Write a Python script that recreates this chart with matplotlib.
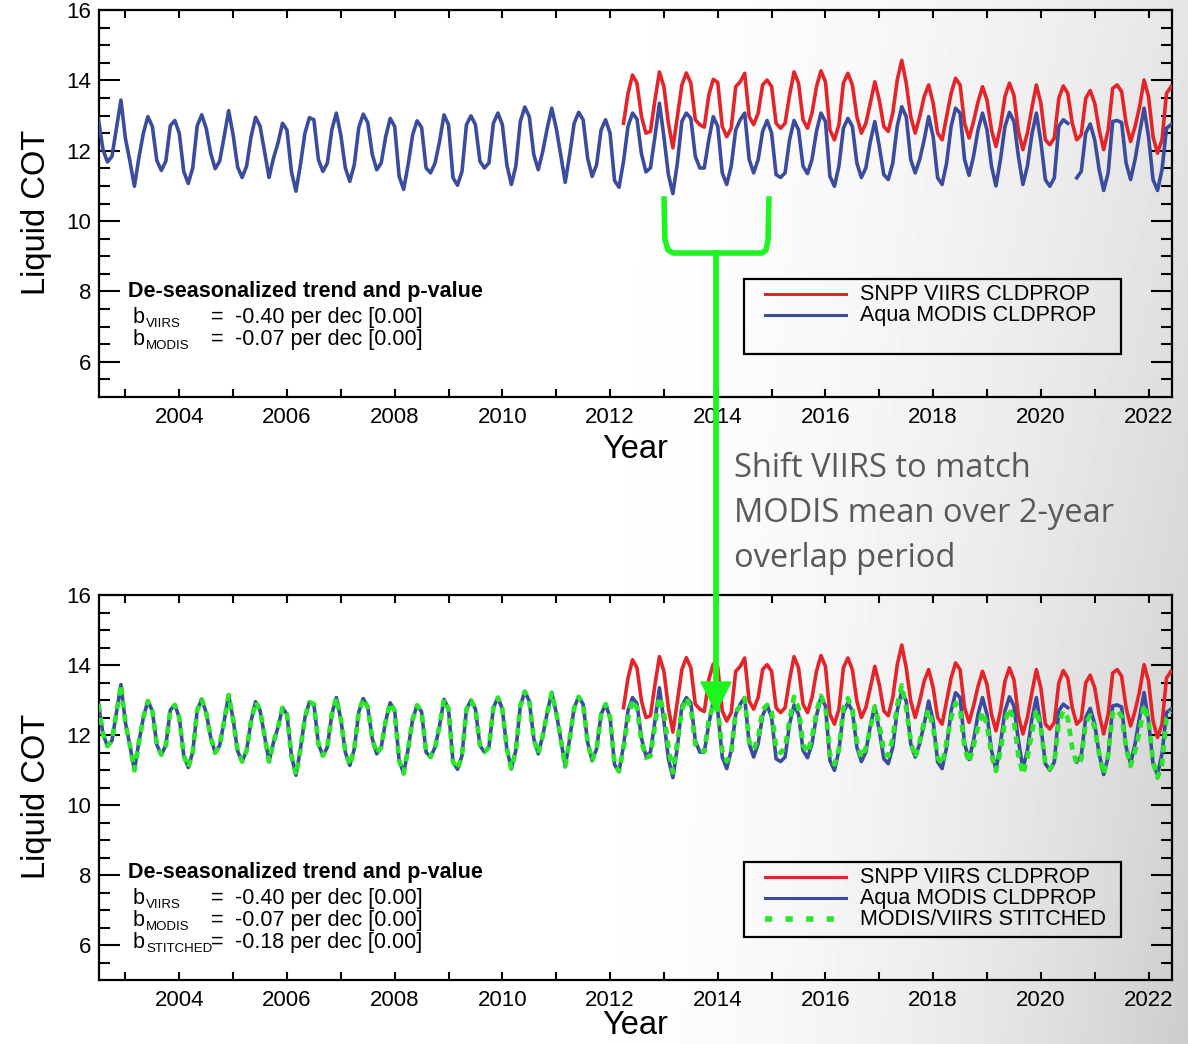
import numpy as np
import matplotlib
matplotlib.use('Agg')
import matplotlib.pyplot as plt
from matplotlib.lines import Line2D
from matplotlib.patches import Rectangle, Polygon

plt.rcParams['font.family'] = ['Liberation Sans', 'DejaVu Sans']

# ---------------- data (monthly, starting July 2002) ----------------
start_year = 2002.5
modis = [
    12.88, 12.03, 11.68, 11.84, 12.64, 13.44, 12.35, 11.70, 10.99, 11.80, 12.50, 12.97,
    12.69, 11.72, 11.44, 11.70, 12.71, 12.86, 12.50, 11.41, 11.07, 11.51, 12.71, 13.02,
    12.64, 11.93, 11.49, 11.70, 12.40, 13.14, 12.45, 11.54, 11.24, 11.56, 12.40, 12.95,
    12.70, 11.98, 11.24, 11.79, 12.22, 12.78, 12.59, 11.40, 10.85, 11.60, 12.50, 12.94,
    12.88, 11.75, 11.41, 11.65, 12.60, 13.07, 12.45, 11.51, 11.13, 11.60, 12.66, 13.04,
    12.80, 11.90, 11.46, 11.65, 12.40, 12.92, 12.69, 11.27, 10.90, 11.60, 12.45, 12.85,
    12.66, 11.51, 11.37, 11.65, 12.26, 13.02, 12.74, 11.23, 11.02, 11.41, 12.74, 12.99,
    12.74, 11.70, 11.51, 11.65, 12.78, 13.07, 12.74, 11.60, 11.04, 11.56, 12.83, 13.24,
    12.97, 11.89, 11.46, 11.98, 12.64, 13.21, 12.64, 11.89, 11.10, 11.89, 12.78, 13.09,
    12.88, 11.79, 11.27, 11.60, 12.59, 12.88, 12.50, 11.15, 10.96, 11.70, 12.69, 13.07,
    12.90, 11.91, 11.40, 11.51, 12.40, 13.35, 12.40, 11.32, 10.78, 11.65, 12.83, 13.07,
    12.92, 11.84, 11.51, 11.51, 12.31, 12.97, 12.69, 11.37, 11.04, 11.56, 12.59, 12.88,
    13.07, 11.75, 11.37, 11.75, 12.55, 12.86, 12.50, 11.32, 11.24, 11.37, 12.31, 12.86,
    12.59, 11.56, 11.35, 11.75, 12.55, 13.07, 12.83, 11.27, 10.99, 11.56, 12.64, 12.92,
    12.69, 11.65, 11.24, 11.51, 12.26, 12.83, 12.12, 11.32, 11.18, 11.65, 12.70, 13.25,
    12.97, 11.75, 11.37, 11.75, 12.31, 12.97, 12.40, 11.23, 11.04, 11.65, 12.69, 13.21,
    13.07, 11.75, 11.30, 11.84, 12.59, 13.07, 12.59, 11.56, 11.00, 11.75, 12.69, 13.09,
    12.83, 11.84, 11.04, 11.56, 12.46, 13.07, 12.26, 11.18, 10.99, 11.23, 12.69, 12.88,
    12.78, np.nan, 11.23, 11.41, 12.50, 12.76, 12.31, 11.46, 10.87, 11.37, 12.83, 12.86,
    12.80, 11.65, 11.18, 11.75, 12.50, 13.21, 12.40, 11.18, 10.87, 11.46, 12.64, 12.74,
]
viirs_start_month = 117  # April 2012
viirs = [
    12.78, 13.63, 14.15, 13.92, 12.97, 12.50, 12.55, 13.44, 14.24, 13.82, 12.78, 12.08,
    12.97, 13.87, 14.21, 13.92, 12.88, 12.74, 12.67, 13.58, 14.03, 13.94, 12.69, 12.40,
    12.64, 13.82, 13.96, 14.20, 12.97, 12.74, 13.07, 13.87, 14.01, 13.82, 12.78, 12.64,
    12.78, 13.58, 14.24, 13.92, 12.88, 12.64, 13.07, 13.82, 14.27, 13.96, 12.59, 12.31,
    12.74, 13.92, 14.20, 13.87, 12.97, 12.50, 12.78, 13.35, 13.96, 13.44, 12.69, 12.55,
    13.07, 14.01, 14.57, 13.92, 12.97, 12.50, 12.97, 13.54, 13.87, 13.35, 12.50, 12.31,
    12.97, 13.63, 14.06, 13.87, 12.78, 12.36, 12.83, 13.39, 13.82, 13.44, 12.59, 12.12,
    12.69, 13.54, 13.92, 13.58, 12.55, 12.03, 12.50, 13.21, 13.87, 13.35, 12.31, 12.17,
    12.36, 13.49, 13.84, 13.63, 12.78, 12.31, 12.45, 13.49, 13.71, 13.35, 12.59, 12.03,
    12.59, 13.77, 13.87, 13.68, 12.78, 12.26, 12.69, 13.25, 14.01, 13.54, 12.40, 11.93,
    12.31, 13.63, 13.82,
]
stitched = modis[:117] + [
    11.63, 12.48, 13.00, 12.77, 11.82, 11.35, 11.40, 12.29, 13.09, 12.67, 11.63, 10.93,
    11.82, 12.72, 13.06, 12.77, 11.73, 11.59, 11.52, 12.43, 12.88, 12.79, 11.54, 11.25,
    11.49, 12.67, 12.81, 13.05, 11.82, 11.59, 11.92, 12.72, 12.86, 12.67, 11.63, 11.49,
    11.63, 12.43, 13.09, 12.77, 11.73, 11.49, 11.92, 12.67, 13.12, 12.81, 11.44, 11.16,
    11.59, 12.77, 13.05, 12.72, 11.82, 11.35, 11.63, 12.20, 12.81, 12.29, 11.54, 11.40,
    11.92, 12.86, 13.42, 12.77, 11.82, 11.35, 11.82, 12.39, 12.72, 12.20, 11.35, 11.16,
    11.82, 12.48, 12.91, 12.72, 11.63, 11.21, 11.68, 12.24, 12.67, 12.29, 11.44, 10.97,
    11.54, 12.39, 12.77, 12.43, 11.40, 10.88, 11.35, 12.06, 12.72, 12.20, 11.16, 11.02,
    11.21, 12.34, 12.69, 12.48, 11.63, 11.16, 11.30, 12.34, 12.56, 12.20, 11.44, 10.88,
    11.44, 12.62, 12.72, 12.53, 11.63, 11.11, 11.54, 12.10, 12.86, 12.39, 11.25, 10.78,
    11.16, 12.48, 12.67,
]
xtick_years = list(range(2003, 2023))
ytick_major = [6, 8, 10, 12, 14, 16]
ytick_minor = [5.5, 6.5, 7, 7.5, 8.5, 9, 9.5, 10.5, 11, 11.5, 12.5, 13, 13.5, 14.5, 15, 15.5]
series_labels = ['SNPP VIIRS CLDPROP', 'Aqua MODIS CLDPROP', 'MODIS/VIIRS STITCHED']
trend_names = ['VIIRS', 'MODIS', 'STITCHED']
trend_values = [-0.40, -0.07, -0.18]
trend_pvalues = [0.00, 0.00, 0.00]
note_lines = ['Shift VIIRS to match', 'MODIS mean over 2-year', 'overlap period']

# ---------------- styling ----------------
RED = '#e5242a'
BLUE = '#3b4c9e'
GREEN = '#2ae62a'
ARROW_GREEN = '#1ef51e'
W, H = 1188, 1044

def fx(x):
    return x / W

def fy(y):
    return 1 - y / H

fig = plt.figure(figsize=(W / 100, H / 100), dpi=100)

# background gradient (slide background), soft grey towards the right edge
bg = fig.add_axes([0, 0, 1, 1], zorder=-10)
xx, yy = np.meshgrid(np.arange(W), np.arange(H))
ramp = np.clip((xx - 520) / 668, 0, 1) ** 2.0
g = 1 - ramp * (0.10 + 0.10 * yy / H)
bg.imshow(g, cmap='gray', vmin=0, vmax=1, extent=[0, 1, 0, 1], aspect='auto',
          interpolation='bilinear')
bg.axis('off')

t_modis = start_year + np.arange(len(modis)) / 12
t_viirs = start_year + (viirs_start_month + np.arange(len(viirs))) / 12
t_stitch = start_year + np.arange(len(stitched)) / 12

ax_x0, ax_x1 = 98.5, 1171.7
panels = [(10, 397), (595, 980)]
axes = []
for (ytop, ybot) in panels:
    ax = fig.add_axes([fx(ax_x0), fy(ybot), (ax_x1 - ax_x0) / W, (ybot - ytop) / H])
    ax.set_facecolor('none')
    axes.append(ax)

for k, ax in enumerate(axes):
    ax.plot(t_viirs, viirs, color=RED, lw=2.6, zorder=3, solid_joinstyle='round')
    ax.plot(t_modis, modis, color=BLUE, lw=2.6, zorder=4, solid_joinstyle='round')
    if k == 1:
        ax.plot(t_stitch, stitched, color=GREEN, lw=3.4, zorder=5, dashes=(1.6, 1.3))
    ax.set_xlim(2002.5, 2022.43)
    ax.set_ylim(5, 16)
    ax.set_xticks(xtick_years)
    ax.set_xticklabels([str(y) if y % 2 == 0 else '' for y in xtick_years])
    ax.set_yticks(ytick_major)
    ax.set_yticklabels([str(v) for v in ytick_major])
    ax.set_yticks(ytick_minor, minor=True)
    ax.tick_params(axis='x', which='major', direction='in', length=6, width=1.5,
                   top=True, bottom=True, labelsize=16, pad=7)
    ax.tick_params(axis='x', which='minor', bottom=False, top=False)
    ax.tick_params(axis='y', which='major', direction='in', length=15, width=1.5,
                   left=True, right=True, labelsize=16, pad=5)
    ax.tick_params(axis='y', which='minor', direction='in', length=8, width=1.5,
                   left=True, right=True)
    for s in ax.spines.values():
        s.set_linewidth(1.6)

# axis labels
for k, (ytop, ybot) in enumerate(panels):
    fig.text(fx(37), fy((ytop + ybot) / 2 + 9), 'Liquid COT', rotation=90,
             ha='center', va='center', fontsize=23.5)
    ylab = ybot + 52 if k == 0 else ybot + 46
    fig.text(fx(635), fy(ylab), 'Year', ha='center', va='center', fontsize=23.5)

# trend text blocks
def trend_block(y_title, n):
    fig.text(fx(128), fy(y_title), 'De-seasonalized trend and p-value',
             fontsize=15.5, fontweight='bold', va='baseline')
    for j in range(n):
        yb = y_title + 26 + 22 * j
        fig.text(fx(133), fy(yb), 'b', fontsize=15.5, va='baseline')
        fig.text(fx(146), fy(yb + 4), trend_names[j], fontsize=9.5, va='baseline')
        fig.text(fx(211), fy(yb), '=', fontsize=15.5, va='baseline')
        fig.text(fx(235), fy(yb), f'{trend_values[j]:.2f} per dec [{trend_pvalues[j]:.2f}]',
                 fontsize=15.5, va='baseline')

trend_block(297, 2)
trend_block(878, 3)

# legends
def legend_block(y_top, n):
    fig.add_artist(Rectangle((fx(744), fy(y_top + 75)), (1121 - 744) / W, 75 / H,
                             transform=fig.transFigure, fill=False, lw=1.6, ec='black'))
    cols = [RED, BLUE, GREEN]
    for j in range(n):
        yl = y_top + 15 + 21 * j
        if j < 2:
            fig.add_artist(Line2D([fx(765), fx(846)], [fy(yl), fy(yl)], color=cols[j], lw=2.2,
                                  transform=fig.transFigure))
        else:
            fig.add_artist(Line2D([fx(765), fx(836)], [fy(yl), fy(yl)], color=cols[j], lw=4,
                                  dashes=(1.3, 2.4), solid_capstyle='butt',
                                  transform=fig.transFigure))
        fig.text(fx(860), fy(yl + 6), series_labels[j], fontsize=15.5, va='baseline')

legend_block(279, 2)
legend_block(862, 3)

# green bracket and arrow
bx = [664, 665, 668, 673, 762, 766, 768, 769]
byy = [199, 240, 250, 253, 253, 250, 240, 199]
fig.add_artist(Line2D([fx(v) for v in bx], [fy(v) for v in byy], color=ARROW_GREEN, lw=4,
                      solid_joinstyle='round', transform=fig.transFigure))
fig.add_artist(Line2D([fx(716), fx(716)], [fy(253), fy(685)], color=ARROW_GREEN, lw=4.2,
                      transform=fig.transFigure))
fig.add_artist(Polygon([(fx(701), fy(682)), (fx(731), fy(682)), (fx(716), fy(712))],
                       closed=True, color=ARROW_GREEN, transform=fig.transFigure))

# note text
for j, line in enumerate(note_lines):
    fig.text(fx(734), fy(477 + 45 * j), line, fontsize=23.5, color='#595959',
             family=['Open Sans', 'DejaVu Sans'], va='baseline')

fig.savefig('out.png', dpi=100)
